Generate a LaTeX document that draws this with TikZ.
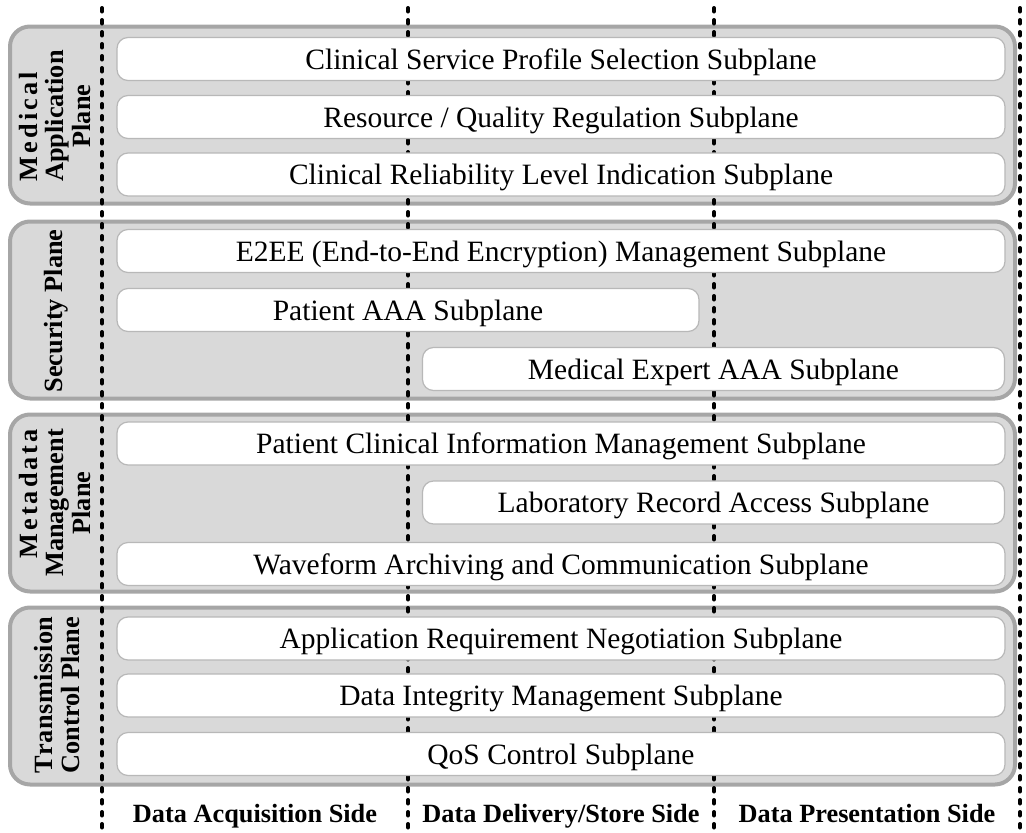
\documentclass[tikz,border=0pt]{standalone}
\usepackage{fontspec}
\setmainfont{Liberation Serif}
\definecolor{planefill}{HTML}{D9D9D9}
\definecolor{planeedge}{HTML}{A6A6A6}
\definecolor{subedge}{HTML}{B8B8B8}
\newcommand\subfont{\fontsize{29.5}{33}\selectfont}
\newcommand\labelfont{\fontsize{26.3}{26.5}\selectfont\bfseries}
\newsavebox\appbox
\newsavebox\mgmtbox
\newsavebox\ctrlbox
\tikzset{
  plane/.style={draw=planeedge, line width=4pt, fill=planefill, rounded corners=20pt,
    inner sep=0pt, outer sep=0pt, minimum width=1005pt, minimum height=177pt},
  sub/.style={draw=subedge, line width=1.2pt, fill=white, rounded corners=11pt,
    inner sep=0pt, outer sep=0pt, minimum height=43pt, font=\subfont,
    text height=22pt, text depth=2pt},
  fullsub/.style={sub, minimum width=888pt},
  halfsub/.style={sub, minimum width=582pt},
  planelabel/.style={rotate=90, align=center, font=\labelfont, inner sep=0pt},
  sidelabel/.style={font=\labelfont, inner sep=0pt, text height=18pt, text depth=6pt},
  divider/.style={line width=4pt, line cap=round, dash pattern=on 3.5pt off 8.5pt},
}
\begin{document}
% reference widths for the stacked plane labels
\sbox\appbox{\labelfont Application}%
\sbox\mgmtbox{\labelfont Management}%
\sbox\ctrlbox{\labelfont Control Plane}%
\begin{tikzpicture}[x=1pt, y=-1pt]
\useasboundingbox (0,0) rectangle (1026,833);

% planes
\node[plane] (medplane) at (512.5,115) {};
\node[plane] (secplane) at (512.5,310) {};
\node[plane] (metaplane) at (512.5,503) {};
\node[plane] (transplane) at (512.5,696) {};

% side dividers
\foreach \i/\x in {1/102, 2/408, 3/714, 4/1020} {
  \coordinate (div\i top) at (\x,8);
  \coordinate (div\i bot) at (\x,833);
  \draw[divider] (div\i top) -- (div\i bot);
}

% medical application plane
\node[fullsub] (cssp) at (561,59) {Clinical Service Profile Selection Subplane};
\node[fullsub] (rqr) at (561,117) {Resource / Quality Regulation Subplane};
\node[fullsub] (crli) at (561,174.5) {Clinical Reliability Level Indication Subplane};

% security plane
\node[fullsub] (e2ee) at (561,251) {E2EE (End-to-End Encryption) Management Subplane};
\node[halfsub] (paaa) at (408,310) {Patient AAA Subplane};
\node[halfsub] (meaaa) at (713.5,369) {Medical Expert AAA Subplane};

% metadata management plane
\node[fullsub] (pcim) at (561,443.5) {Patient Clinical Information Management Subplane};
\node[halfsub] (lra) at (713.5,502.5) {Laboratory Record Access Subplane};
\node[fullsub] (wac) at (561,564) {Waveform Archiving and Communication Subplane};

% transmission control plane
\node[fullsub] (arn) at (561,638.5) {Application Requirement Negotiation Subplane};
\node[fullsub] (dim) at (561,695.5) {Data Integrity Management Subplane};
\node[fullsub] (qos) at (561,754) {QoS Control Subplane};

% plane labels
\node[planelabel] (medlabel) at (55,116)
  {\makebox[\wd\appbox][l]{\makebox[110pt][s]{M\hfil e\hfil d\hfil i\hfil c\hfil a\hfil l}}\\Application\\Plane};
\node[planelabel] (seclabel) at (56,311) {Security Plane};
\node[planelabel] (metalabel) at (55,503)
  {\makebox[\wd\mgmtbox][r]{\makebox[129pt][s]{M\hfil e\hfil t\hfil a\hfil d\hfil a\hfil t\hfil a}}\\Management\\Plane};
\node[planelabel] (translabel) at (57,695)
  {\makebox[\wd\ctrlbox][s]{T\hfil r\hfil a\hfil n\hfil s\hfil m\hfil i\hfil s\hfil s\hfil i\hfil o\hfil n}\\Control Plane};

% side labels
\node[sidelabel] (acqside) at (255,816) {Data Acquisition Side};
\node[sidelabel] (delside) at (561,816) {Data Delivery/Store Side};
\node[sidelabel] (presside) at (867,816) {Data Presentation Side};
\end{tikzpicture}
\end{document}
